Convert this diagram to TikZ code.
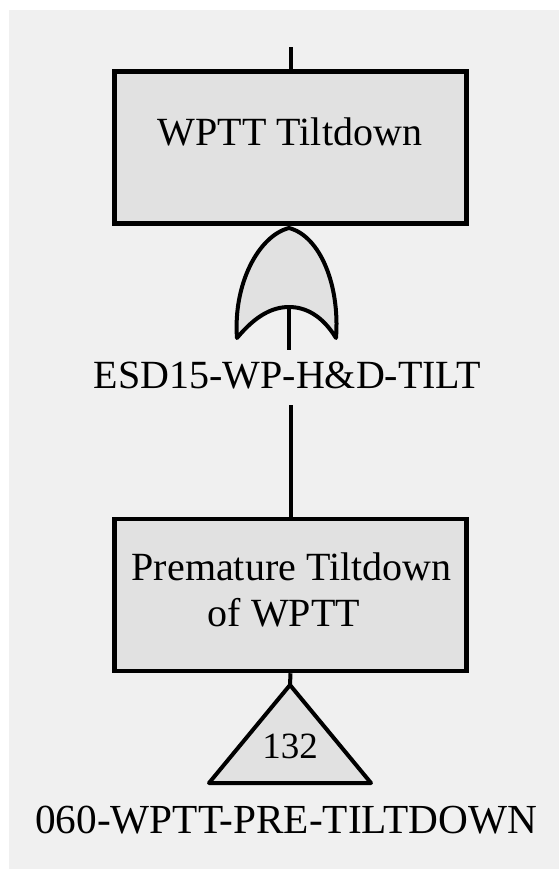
\documentclass[tikz,border=0pt]{standalone}
\usepackage{fontspec}
\setmainfont{Liberation Serif}
\definecolor{bgc}{HTML}{F0F0F0}
\definecolor{boxc}{HTML}{E1E1E1}
\tikzset{
  evbox/.style={draw=black, fill=boxc, line width=4.5bp, minimum width=352bp, minimum height=152bp, inner sep=0pt},
  txt/.style={anchor=base, inner sep=0pt, font=\fontsize{40bp}{46bp}\selectfont},
  conn/.style={draw=black, line width=4bp},
  gatefill/.style={draw=black, fill=boxc, line width=4bp, line join=round},
}
\begin{document}
\begin{tikzpicture}[x=1bp,y=-1bp]
\useasboundingbox (0,0) rectangle (559,869);
\fill[bgc] (9,10) rectangle (559,869);
% top event
\coordinate (top) at (290.5,47);
\node[evbox] (box1) at (290.5,147.5) {};
\node[txt] (t1) at (290,145) {WPTT Tiltdown};
\draw[conn] (top) -- (box1.north);
% OR gate
\coordinate (gA) at (289,228);
\coordinate (gL) at (237,338);
\coordinate (gR) at (336,338);
\coordinate (gin) at (289,307);
\draw[gatefill] (gL) .. controls (233,285) and (258,236) .. (gA)
  .. controls (320,236) and (340,285) .. (gR)
  .. controls (322,315) and (305,307) .. (gin)
  .. controls (273,307) and (256,315) .. (gL) -- cycle;
\node[txt] (esd) at (287.5,388) {ESD15-WP-H\&D-TILT};
\coordinate (s1) at (289,350);
\coordinate (s2) at (290.5,405);
\draw[conn] (gin) -- (s1);
% second event
\node[evbox] (box2) at (290.5,595) {};
\node[txt] (t2a) at (291.5,580) {Premature Tiltdown};
\node[txt] (t2b) at (284,626) {of WPTT};
\draw[conn] (s2) -- (box2.north);
% transfer triangle
\coordinate (tA) at (290,685);
\coordinate (tR) at (371,783);
\coordinate (tL) at (209,783);
\draw[gatefill] (tA) -- (tR) -- (tL) -- cycle;
\draw[conn] (box2.south) -- (tA);
\node[anchor=base, inner sep=0pt, font=\fontsize{37bp}{44bp}\selectfont] (n132) at (290,758) {132};
\node[txt, font=\fontsize{41.3bp}{48bp}\selectfont] (lab) at (286,833) {060-WPTT-PRE-TILTDOWN};
\end{tikzpicture}
\end{document}
